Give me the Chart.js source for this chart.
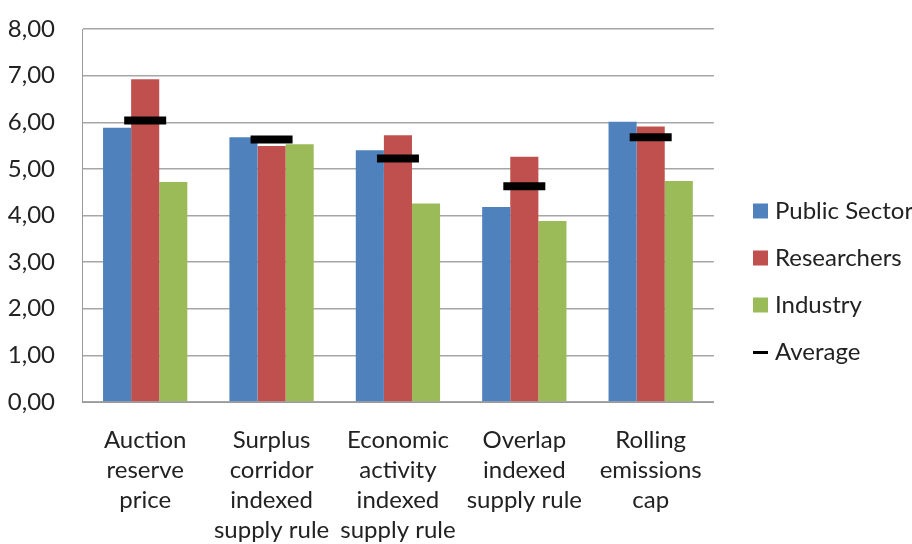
<!DOCTYPE html>
<html lang="en">
<head>
  <meta charset="UTF-8">
  <title>Supply rule ratings</title>
  <script src="https://cdn.jsdelivr.net/npm/chart.js"></script>
  <style>
    html, body { margin: 0; padding: 0; background: #fff; overflow: hidden; }
    #chart { display: block; }
  </style>
</head>
<body>
  <canvas id="chart" width="912" height="544"></canvas>
  <script>
    const categories = [
      ['Auction', 'reserve', 'price'],
      ['Surplus', 'corridor', 'indexed', 'supply rule'],
      ['Economic', 'activity', 'indexed', 'supply rule'],
      ['Overlap', 'indexed', 'supply rule'],
      ['Rolling', 'emissions', 'cap']
    ];
    const publicSector = [5.88, 5.68, 5.40, 4.18, 6.01];
    const researchers = [6.92, 5.49, 5.72, 5.26, 5.91];
    const industry = [4.72, 5.53, 4.26, 3.88, 4.74];
    const average = [6.04, 5.63, 5.22, 4.63, 5.68];
    const yTicks = [0, 1, 2, 3, 4, 5, 6, 7, 8];

    const font = "'Lato', 'Open Sans', sans-serif";
    Chart.defaults.font.family = font;
    Chart.defaults.color = '#222';

    // short dash used as the legend key for the average
    const dash = document.createElement('canvas');
    dash.width = 15; dash.height = 3;
    const dctx = dash.getContext('2d');
    dctx.fillStyle = '#000';
    dctx.fillRect(0, 0, 15, 3);

    // the legend sits a little away from the plot, level with the middle of it
    const legendSpot = {
      id: 'legendSpot',
      afterLayout(chart) {
        const lg = chart.legend;
        const dx = 735 - lg.left;
        const dy = 176 - lg.top;
        lg.left += dx; lg.right += dx;
        lg.top += dy; lg.bottom += dy;
      }
    };

    const ctx = document.getElementById('chart').getContext('2d');
    new Chart(ctx, {
      type: 'bar',
      data: {
        labels: categories,
        datasets: [
          {
            type: 'line',
            label: 'Average',
            data: average,
            showLine: false,
            pointStyle: 'line',
            pointRadius: 21,
            pointHoverRadius: 21,
            pointBorderWidth: 8,
            pointBorderColor: '#000',
            borderColor: '#000',
            borderWidth: 8,
            order: 0
          },
          { label: 'Public Sector', data: publicSector, backgroundColor: '#4f81bd', pointStyle: 'rect', order: 1 },
          { label: 'Researchers', data: researchers, backgroundColor: '#c0504d', pointStyle: 'rect', order: 1 },
          { label: 'Industry', data: industry, backgroundColor: '#9bbb59', pointStyle: 'rect', order: 1 }
        ]
      },
      options: {
        responsive: false,
        animation: false,
        datasets: {
          bar: { categoryPercentage: 0.667, barPercentage: 1 }
        },
        layout: { padding: { top: 28, right: 10, left: 0, bottom: 0 } },
        plugins: {
          tooltip: { enabled: false },
          legend: {
            position: 'right',
            align: 'start',
            labels: {
              usePointStyle: true,
              boxWidth: 5,
              boxHeight: 15,
              padding: 23,
              font: { size: 24, family: font },
              color: '#222',
              sort: (a, b) => (a.text === 'Average') - (b.text === 'Average'),
              generateLabels(chart) {
                const items = Chart.defaults.plugins.legend.labels.generateLabels(chart);
                items.forEach(it => {
                  it.lineWidth = 0;
                  if (it.text === 'Average') it.pointStyle = dash;
                });
                return items;
              }
            }
          }
        },
        scales: {
          x: {
            grid: { display: false, drawTicks: false },
            border: { color: '#9a9a9a', width: 1 },
            ticks: { font: { size: 24, family: font, lineHeight: 1.25 }, padding: 23, maxRotation: 0, autoSkip: false },
            afterFit(scale) { scale.height = 142; }
          },
          y: {
            min: 0,
            max: 8,
            afterBuildTicks(scale) { scale.ticks = yTicks.map(v => ({ value: v })); },
            grid: { color: '#a6a6a6', drawTicks: false, lineWidth: 1.5 },
            border: { color: '#9a9a9a', width: 1 },
            ticks: {
              font: { size: 24, family: font },
              padding: 27,
              callback: v => v.toFixed(2).replace('.', ',')
            },
            afterFit(scale) {
              scale.width = 82;
              scale.paddingTop = 0;
              scale.paddingBottom = 0;
            }
          }
        }
      },
      plugins: [legendSpot]
    });
  </script>
</body>
</html>
